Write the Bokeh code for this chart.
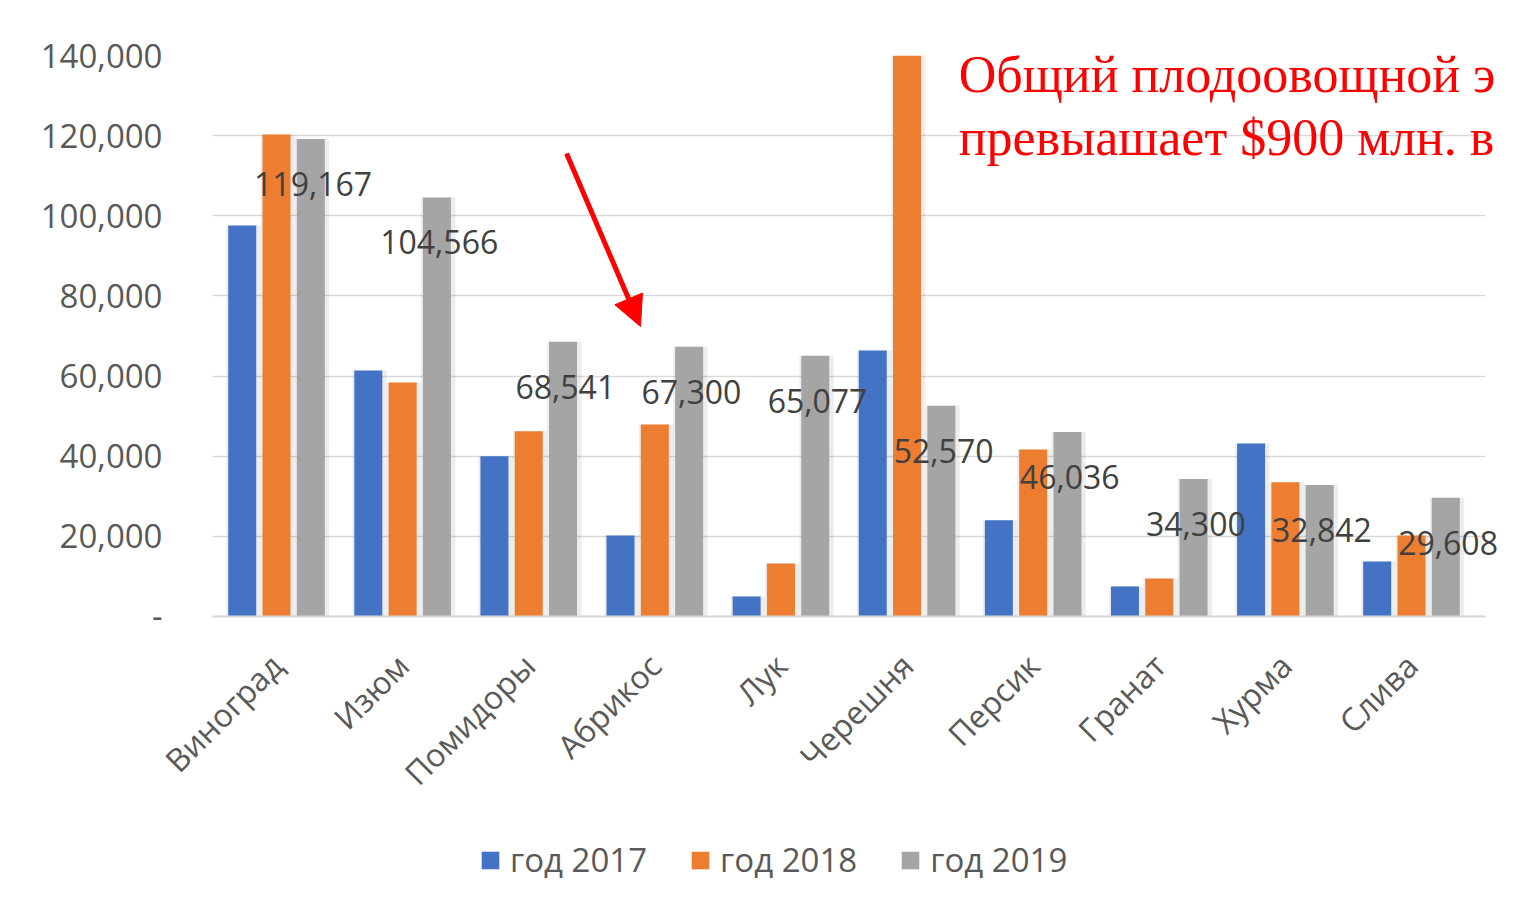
import math
from bokeh.plotting import figure
from bokeh.models import (ColumnDataSource, Range1d, FixedTicker, Legend, LegendItem,
                          Label, Arrow, NormalHead, NumeralTickFormatter)
from bokeh.transform import dodge
from bokeh.core.properties import value
from bokeh.embed import file_html
from bokeh.resources import INLINE

categories = ["Виноград", "Изюм", "Помидоры", "Абрикос", "Лук",
              "Черешня", "Персик", "Гранат", "Хурма", "Слива"]
y2017 = [97600, 61400, 40000, 20200, 5000, 66400, 24000, 7500, 43200, 13700]
y2018 = [120300, 58400, 46200, 47900, 13200, 140500, 41700, 9500, 33500, 20200]
y2019 = [119167, 104566, 68541, 67300, 65077, 52570, 46036, 34300, 32842, 29608]
series_names = ["год 2017", "год 2018", "год 2019"]
y_ticks = [0, 20000, 40000, 60000, 80000, 100000, 120000, 140000]
note_lines = ["Общий плодоовощной э", "превыашает $900 млн. в"]

colors = ["#4472C4", "#ED7D31", "#A5A5A5"]
text_gray = "#595959"
FONT = "Open Sans"

# category slots on a linear scale: slot i is centred at i + 0.5
xpos = [i + 0.5 for i in range(len(categories))]
n_slots = len(categories)

source = ColumnDataSource(data=dict(
    xpos=xpos, cat=categories, y2017=y2017, y2018=y2018, y2019=y2019,
    lab=[f"{v:,}" for v in y2019],
))

# frame extends below the zero line so that category labels and legend sit inside it
p = figure(x_range=Range1d(-0.42, n_slots + 0.19), y_range=Range1d(-72870, 140000),
           frame_width=1338, frame_height=853, output_backend="svg", toolbar_location=None,
           min_border_left=160, min_border_right=0, min_border_top=55, min_border_bottom=0)
p.background_fill_color = "white"
p.border_fill_color = "white"
p.outline_line_color = None

offsets = [-0.272, 0.0, 0.272]
bw = 0.222
renderers = []
for col, off, c in zip(["y2017", "y2018", "y2019"], offsets, colors):
    # soft shadow
    p.vbar(x=dodge("xpos", off + 0.01), top=col, width=bw + 0.05, source=source,
           fill_color="#000000", fill_alpha=0.07, line_color=None)
    r = p.vbar(x=dodge("xpos", off), top=col, width=bw, source=source,
               fill_color=c, line_color=None)
    renderers.append(r)

p.text(x=dodge("xpos", 0.29), y="y2019", text="lab", source=source,
       text_align="center", text_baseline="middle", y_offset=45,
       text_font=value(FONT), text_font_size="32px", text_color="#404040")

# y axis
p.yaxis.ticker = FixedTicker(ticks=y_ticks)
p.yaxis.formatter = NumeralTickFormatter(format="0,0")
p.yaxis.major_label_overrides = {0: "-"}
p.yaxis.axis_line_color = None
p.yaxis.major_tick_line_color = None
p.yaxis.minor_tick_line_color = None
try:
    p.yaxis.major_label_standoff = -8
except ValueError:
    p.yaxis.major_label_standoff = 0
p.yaxis.major_label_text_font = FONT
p.yaxis.major_label_text_font_size = "33px"
p.yaxis.major_label_text_color = text_gray

# x axis (category names)
p.xaxis.fixed_location = 0
p.xaxis.bounds = (-0.008, n_slots + 0.087)
p.xaxis.ticker = FixedTicker(ticks=xpos)
p.xaxis.major_label_overrides = {x: c for x, c in zip(xpos, categories)}
p.xaxis.axis_line_color = "#d9d9d9"
p.xaxis.axis_line_width = 2
p.xaxis.major_tick_line_color = None
p.xaxis.minor_tick_line_color = None
p.xaxis.major_label_orientation = math.pi / 4
p.xaxis.major_label_standoff = 37
p.xaxis.major_label_text_font = FONT
p.xaxis.major_label_text_font_size = "32px"
p.xaxis.major_label_text_color = text_gray

p.xgrid.grid_line_color = None
p.ygrid.grid_line_color = "#d9d9d9"
p.ygrid.grid_line_width = 1.5
p.ygrid.ticker = FixedTicker(ticks=y_ticks)
try:
    p.ygrid[0].cross_bounds = (-0.008, n_slots + 0.087)
except AttributeError:
    p.ygrid.grid_line_color = None
    p.segment(x0=-0.008, x1=n_slots + 0.087, y0=y_ticks, y1=y_ticks,
              line_color="#d9d9d9", line_width=1.5, level="underlay")

legend = Legend(items=[LegendItem(label=n, renderers=[r]) for n, r in zip(series_names, renderers)],
                orientation="horizontal", location=(319, 26),
                glyph_width=22, glyph_height=22, label_standoff=9, spacing=42,
                label_text_font=FONT, label_text_font_size="33px", label_text_color=text_gray,
                border_line_color=None, background_fill_alpha=0, margin=0, padding=0)
p.add_layout(legend, "center")

# red note and arrow
for i, line in enumerate(note_lines):
    p.add_layout(Label(x=5.91, y=135330 - i * 15720, text=line, text_font="Liberation Serif",
                       text_font_size="52px", text_color="#FF0000", text_baseline="alphabetic"))

p.add_layout(Arrow(end=NormalHead(size=30, fill_color="#FF0000", line_color="#FF0000"),
                   x_start=2.80, y_start=115540, x_end=3.386, y_end=72370,
                   line_color="#FF0000", line_width=5))

open("out.html", "w").write(file_html(p, INLINE))
